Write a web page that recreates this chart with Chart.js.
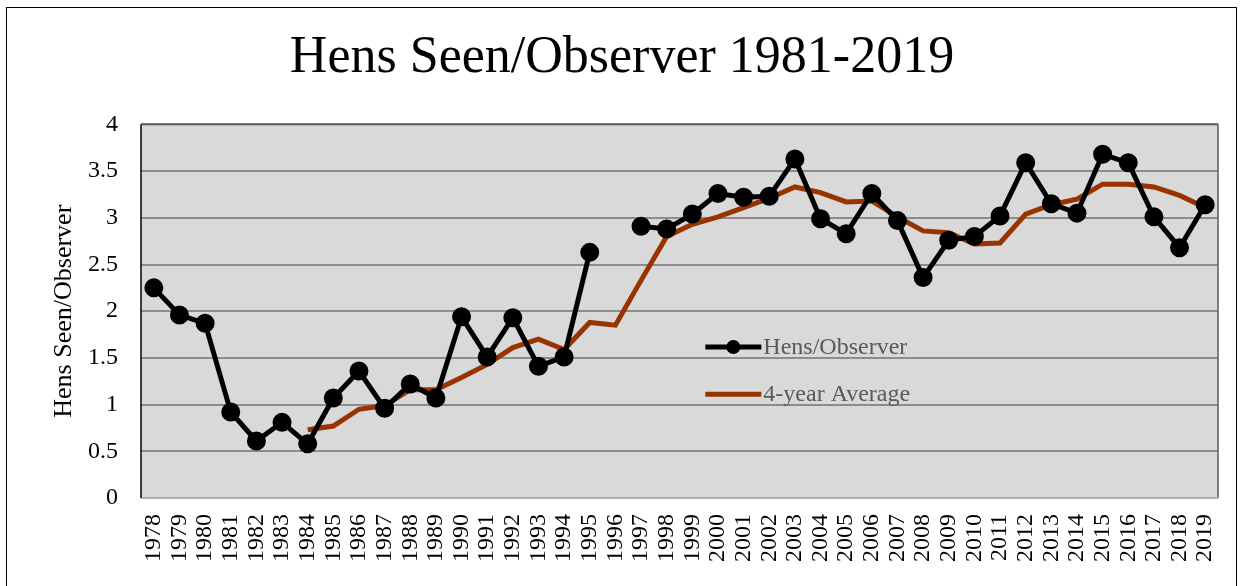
<!DOCTYPE html>
<html>
<head>
<meta charset="utf-8">
<title>Hens Seen/Observer 1981-2019</title>
<script src="https://cdn.jsdelivr.net/npm/chart.js@4.4.1/dist/chart.umd.min.js"></script>
<style>
    html, body { margin: 0; padding: 0; background: #fff; }
    #wrap { position: relative; width: 1244px; height: 586px; overflow: hidden; }
    #frame { position: absolute; left: 6px; top: 7px; width: 1231px; height: 600px; border: 1.5px solid #000; box-sizing: border-box; }
    canvas { position: absolute; left: 0; top: 0; }
</style>
</head>
<body>
<div id="wrap">
    <div id="frame"></div>
    <canvas id="hensChart" width="1244" height="586"></canvas>
</div>
<script>
// Years on the x axis
const years = ['1978','1979','1980','1981','1982','1983','1984','1985','1986','1987',
    '1988','1989','1990','1991','1992','1993','1994','1995','1996','1997',
    '1998','1999','2000','2001','2002','2003','2004','2005','2006','2007',
    '2008','2009','2010','2011','2012','2013','2014','2015','2016','2017',
    '2018','2019'];

// Hens seen per observer (no survey value for 1996)
const hensPerObserver = [2.25, 1.96, 1.87, 0.92, 0.61, 0.81, 0.58, 1.07, 1.36, 0.96,
    1.22, 1.07, 1.94, 1.51, 1.93, 1.41, 1.51, 2.63, null, 2.91,
    2.88, 3.04, 3.26, 3.22, 3.23, 3.63, 2.99, 2.83, 3.26, 2.97,
    2.36, 2.76, 2.80, 3.02, 3.59, 3.15, 3.05, 3.68, 3.59, 3.01,
    2.68, 3.14];

// 4-year running average (starts 1984)
const fourYearAvg = [null, null, null, null, null, null, 0.73, 0.77, 0.95, 0.99,
    1.16, 1.16, 1.29, 1.43, 1.61, 1.70, 1.59, 1.88, 1.85, 2.33,
    2.80, 2.93, 3.01, 3.11, 3.21, 3.33, 3.27, 3.17, 3.18, 3.01,
    2.86, 2.84, 2.72, 2.73, 3.04, 3.14, 3.20, 3.36, 3.36, 3.33,
    3.24, 3.11];

const yTicks = [0, 0.5, 1, 1.5, 2, 2.5, 3, 3.5, 4];

const SERIF = '"Liberation Serif", "Times New Roman", serif';

// grey plot background + frame
const plotArea = {
    id: 'plotArea',
    beforeDraw(chart) {
        const { ctx, chartArea: a } = chart;
        ctx.save();
        ctx.fillStyle = '#d9d9d9';
        ctx.fillRect(a.left, a.top, a.right - a.left, a.bottom - a.top);
        ctx.restore();
    },
    afterDatasetsDraw(chart) {
        const { ctx, chartArea: a } = chart;
        ctx.save();
        ctx.lineWidth = 1.5;
        ctx.strokeStyle = '#595959';
        ctx.beginPath();
        ctx.moveTo(a.left, a.top);
        ctx.lineTo(a.right, a.top);
        ctx.lineTo(a.right, a.bottom);
        ctx.stroke();
        ctx.strokeStyle = '#bfbfbf';
        ctx.beginPath();
        ctx.moveTo(a.left, a.bottom);
        ctx.lineTo(a.right, a.bottom);
        ctx.stroke();
        ctx.strokeStyle = '#000';
        ctx.beginPath();
        ctx.moveTo(a.left, a.top);
        ctx.lineTo(a.left, a.bottom);
        ctx.stroke();
        ctx.restore();
    }
};

// legend sitting inside the plot, like the original
const innerLegend = {
    id: 'innerLegend',
    afterDraw(chart) {
        const { ctx, chartArea: a } = chart;
        const x0 = a.left + (a.right - a.left) * 0.524;
        const rows = [
            { ds: chart.data.datasets[0], y: a.top + (a.bottom - a.top) * 0.596 },
            { ds: chart.data.datasets[1], y: a.top + (a.bottom - a.top) * 0.722 }
        ];
        ctx.save();
        rows.forEach(r => {
            ctx.strokeStyle = r.ds.borderColor;
            ctx.lineWidth = r.ds.borderWidth;
            ctx.beginPath();
            ctx.moveTo(x0, r.y);
            ctx.lineTo(x0 + 56, r.y);
            ctx.stroke();
            if (r.ds.pointRadius) {
                ctx.fillStyle = r.ds.pointBackgroundColor;
                ctx.beginPath();
                ctx.arc(x0 + 28, r.y, r.ds.pointRadius, 0, Math.PI * 2);
                ctx.fill();
            }
            ctx.fillStyle = '#595959';
            ctx.font = '24px ' + SERIF;
            ctx.textBaseline = 'middle';
            ctx.fillText(r.ds.label, x0 + 58, r.y + 1);
        });
        ctx.restore();
    }
};

new Chart(document.getElementById('hensChart'), {
    type: 'line',
    data: {
        labels: years,
        datasets: [
            {
                label: 'Hens/Observer',
                data: hensPerObserver,
                borderColor: '#000000',
                backgroundColor: '#000000',
                pointBackgroundColor: '#000000',
                pointBorderColor: '#000000',
                borderWidth: 5,
                pointRadius: 7,
                spanGaps: false,
                tension: 0
            },
            {
                label: '4-year Average',
                data: fourYearAvg,
                borderColor: '#993300',
                backgroundColor: '#993300',
                borderWidth: 5,
                pointRadius: 0,
                tension: 0
            }
        ]
    },
    options: {
        responsive: false,
        animation: false,
        layout: { padding: 0 },
        plugins: {
            legend: { display: false },
            tooltip: { enabled: false },
            title: {
                display: true,
                text: 'Hens Seen/Observer 1981-2019',
                color: '#000',
                font: { family: SERIF, size: 52, weight: 'normal', lineHeight: 1.2 },
                padding: { top: 27, bottom: 35 }
            }
        },
        scales: {
            x: {
                offset: true,
                grid: { display: false, drawTicks: false },
                border: { display: false },
                ticks: {
                    color: '#000',
                    autoSkip: false,
                    minRotation: 90,
                    maxRotation: 90,
                    padding: 16,
                    font: { family: SERIF, size: 24 }
                },
                afterFit(scale) {
                    scale.height = 88;
                    scale.paddingLeft = 0;
                    scale.paddingRight = 26;
                }
            },
            y: {
                min: 0,
                max: 4,
                afterBuildTicks(scale) { scale.ticks = yTicks.map(v => ({ value: v })); },
                grid: { color: '#8c8c8c', lineWidth: 2, drawTicks: false },
                border: { display: false },
                ticks: {
                    color: '#000',
                    padding: 23,
                    font: { family: SERIF, size: 24 },
                    callback: v => String(v)
                },
                title: {
                    display: true,
                    text: 'Hens Seen/Observer',
                    color: '#000',
                    font: { family: SERIF, size: 26, lineHeight: 1.2 },
                    padding: { top: 49, bottom: 0 }
                },
                afterFit(scale) {
                    scale.width = 141;
                    scale.paddingTop = 0;
                    scale.paddingBottom = 0;
                }
            }
        }
    },
    plugins: [plotArea, innerLegend]
});
</script>
</body>
</html>
